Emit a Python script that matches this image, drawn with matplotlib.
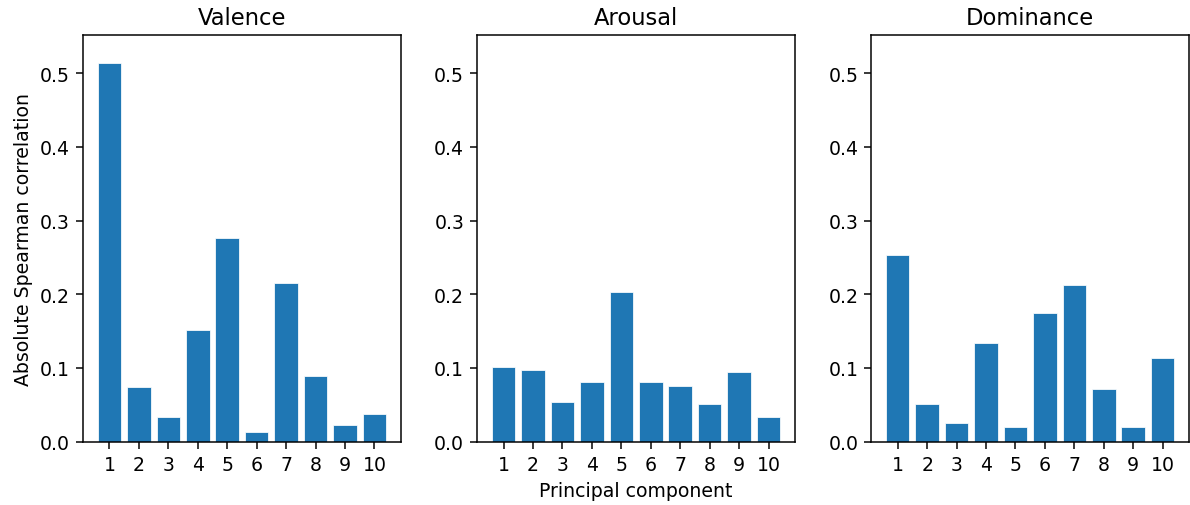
import matplotlib
matplotlib.use('Agg')
from matplotlib import pyplot as plt
import numpy as np

components = np.arange(1, 11)
titles = ["Valence", "Arousal", "Dominance"]

valence = [0.514, 0.074, 0.033, 0.152, 0.276, 0.013, 0.215, 0.089, 0.023, 0.038]
arousal = [0.101, 0.097, 0.054, 0.081, 0.203, 0.081, 0.076, 0.051, 0.094, 0.033]
dominance = [0.253, 0.051, 0.025, 0.134, 0.020, 0.175, 0.213, 0.071, 0.020, 0.114]

series = [valence, arousal, dominance]

# saved at a higher dpi so text comes out the size it has in the original
fig, axes = plt.subplots(1, 3, figsize=(8.75, 3.72), dpi=136)
fig.subplots_adjust(left=0.07, right=0.999, top=0.929, bottom=0.125, wspace=0.242)

for ax, title, vals in zip(axes, titles, series):
    ax.bar(components, vals, color="#1f77b4", edgecolor="white", linewidth=0.4)
    ax.set_title(title)
    ax.set_xticks(components)
    ax.set_ylim(0, 0.552)

axes[0].set_ylabel("Absolute Spearman correlation")
axes[1].set_xlabel("Principal component")

plt.savefig("out.png")
